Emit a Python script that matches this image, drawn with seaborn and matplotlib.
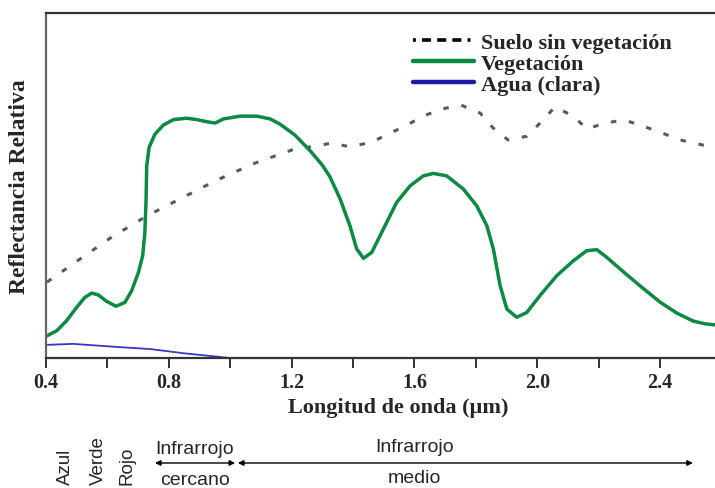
import numpy as np
import pandas as pd
import seaborn as sns
import matplotlib
matplotlib.use("Agg")
import matplotlib.pyplot as plt
from matplotlib.transforms import blended_transform_factory
from matplotlib.lines import Line2D

# ---- data ----
veg_x = [0.400, 0.435, 0.467, 0.500, 0.527, 0.549, 0.570, 0.598, 0.628, 0.657, 0.679,
         0.701, 0.715, 0.722, 0.726, 0.728, 0.736, 0.755, 0.782, 0.815, 0.858, 0.891,
         0.923, 0.951, 0.978, 1.032, 1.086, 1.130, 1.162, 1.211, 1.261, 1.300, 1.325,
         1.358, 1.390, 1.412, 1.434, 1.461, 1.499, 1.542, 1.586, 1.629, 1.662, 1.705,
         1.759, 1.803, 1.836, 1.857, 1.879, 1.901, 1.933, 1.966, 2.009, 2.064, 2.118,
         2.161, 2.194, 2.226, 2.270, 2.335, 2.400, 2.455, 2.508, 2.547, 2.579]
veg_y = [6.3, 7.9, 10.8, 14.7, 17.6, 18.8, 18.3, 16.4, 15.0, 16.1, 19.5,
         24.8, 29.7, 36.4, 46.1, 55.7, 61.1, 64.9, 67.5, 69.1, 69.5, 69.1,
         68.5, 68.1, 69.3, 70.1, 70.1, 69.3, 67.8, 64.6, 60.0, 55.9, 52.5,
         46.1, 38.3, 31.6, 28.9, 30.6, 37.4, 45.1, 49.9, 52.8, 53.5, 52.8,
         49.0, 44.1, 38.3, 31.6, 21.0, 14.2, 11.8, 13.2, 18.1, 23.9, 28.2,
         31.1, 31.4, 29.2, 25.8, 20.9, 16.2, 13.0, 10.7, 9.9, 9.6]

soil_x = [0.403, 0.511, 0.615, 0.729, 0.843, 0.957, 1.081, 1.201, 1.332, 1.390, 1.462,
          1.514, 1.569, 1.628, 1.690, 1.752, 1.814, 1.856, 1.905, 1.967, 2.016, 2.058,
          2.117, 2.162, 2.221, 2.283, 2.345, 2.407, 2.466, 2.540, 2.579]
soil_y = [22.0, 28.7, 35.1, 41.2, 46.4, 51.6, 56.5, 60.3, 62.3, 61.2, 62.6,
          64.9, 67.2, 70.1, 72.2, 73.3, 71.0, 66.7, 63.2, 64.3, 68.7, 72.8,
          70.1, 66.4, 68.1, 69.0, 67.2, 65.2, 63.2, 61.7, 61.2]

water_x = [0.400, 0.488, 0.631, 0.739, 0.846, 0.967, 0.996]
water_y = [3.8, 4.1, 3.2, 2.6, 1.4, 0.3, 0.0]

series_names = ["Suelo sin vegetación", "Vegetación", "Agua (clara)"]
x_ticks = [0.4, 0.8, 1.2, 1.6, 2.0, 2.4]
x_tick_labels = ["0.4", "0.8", "1.2", "1.6", "2.0", "2.4"]
x_minor = [0.6, 1.0, 1.4, 1.8, 2.2]

bands_rot = ["Azul", "Verde", "Rojo"]
bands_rot_x = [0.463, 0.570, 0.663]
nir_range = [0.755, 1.016]
mir_range = [1.025, 2.507]

# ---- style ----
sns.set_style("white")
serif = ["Liberation Serif", "DejaVu Serif"]
sans = ["Liberation Sans", "DejaVu Sans"]
plt.rcParams["font.family"] = serif

fig = plt.figure(figsize=(7.15, 4.89), dpi=100)
ax = fig.add_axes([46 / 715, 130 / 489, 1 - 46 / 715, 345 / 489])

soil_df = pd.DataFrame({"x": soil_x, "y": soil_y})
veg_df = pd.DataFrame({"x": veg_x, "y": veg_y})
water_df = pd.DataFrame({"x": water_x, "y": water_y})

sns.lineplot(data=soil_df, x="x", y="y", ax=ax, color="#5a5a5a", lw=2.2, sort=False)
ax.lines[-1].set_dashes([1.8, 4.2])
sns.lineplot(data=veg_df, x="x", y="y", ax=ax, color="#0b8a42", lw=2.5, sort=False)
ax.lines[-1].set_solid_joinstyle("round")
sns.lineplot(data=water_df, x="x", y="y", ax=ax, color="#3838c4", lw=1.3, sort=False)

ax.set_xlim(0.4, 2.579)
ax.set_ylim(0, 100)
ax.set_yticks([])
ax.set_xticks(x_ticks)
ax.set_xticklabels(x_tick_labels, fontsize=14.5, fontweight="bold", family=serif)
ax.set_xticks(x_minor, minor=True)
ax.tick_params(axis="x", which="both", direction="out", length=7, width=1.3,
               color="#222222", bottom=True, pad=3)
for s in ["left", "bottom", "top"]:
    ax.spines[s].set_color("#333333")
    ax.spines[s].set_linewidth(1.6)
ax.spines["left"].set_color("#666666")
ax.spines["right"].set_visible(False)

ax.set_xlabel("Longitud de onda (µm)", fontsize=16, fontweight="bold", family=serif)
ax.xaxis.set_label_coords((398 - 46) / 669, -0.112)
ax.set_ylabel("Reflectancia Relativa", fontsize=17, fontweight="bold", family=serif)
ax.yaxis.set_label_coords(-0.024, 0.5)

handles = [
    Line2D([], [], color="black", lw=2.6,
           dashes=[0.8, 1.7, 2.5, 1.7, 2.5, 1.7, 2.5, 1.7, 0.8, 20]),
    Line2D([], [], color="#0b8a42", lw=3.2),
    Line2D([], [], color="#1a1aa8", lw=3.2),
]
leg = ax.legend(handles, series_names, loc="upper left",
                bbox_to_anchor=((413 - 46) / 669, 1.0 - 19 / 345),
                frameon=False, handlelength=2.75, handletextpad=0.3,
                labelspacing=0.02, borderaxespad=0.0, borderpad=0.0,
                prop={"family": serif, "weight": "bold", "size": 16})

# ---- spectral band annotations below the axis ----
trans = blended_transform_factory(ax.transData, fig.transFigure)
for name, bx in zip(bands_rot, bands_rot_x):
    ax.text(bx, 4 / 489, name, transform=trans, rotation=90, ha="center", va="bottom",
            fontsize=13.5, family=sans, clip_on=False)

ax.text(sum(nir_range) / 2, (489 - 450) / 489, "Infrarrojo", transform=trans,
        ha="center", va="center", fontsize=14, family=sans)
ax.text(sum(nir_range) / 2, (489 - 481) / 489, "cercano", transform=trans,
        ha="center", va="center", fontsize=14, family=sans)
ax.text(1.600, (489 - 448) / 489, "Infrarrojo", transform=trans,
        ha="center", va="center", fontsize=14, family=sans)
ax.text(1.600, (489 - 479) / 489, "medio", transform=trans,
        ha="center", va="center", fontsize=14, family=sans)

ya = (489 - 464) / 489
for rng in (nir_range, mir_range):
    ax.annotate("", xy=(rng[0], ya), xytext=(rng[1], ya), xycoords=trans, textcoords=trans,
                arrowprops=dict(arrowstyle="<|-|>", color="black", lw=1.0,
                                mutation_scale=8, shrinkA=0, shrinkB=0),
                annotation_clip=False)

fig.savefig("out.png", dpi=100)
